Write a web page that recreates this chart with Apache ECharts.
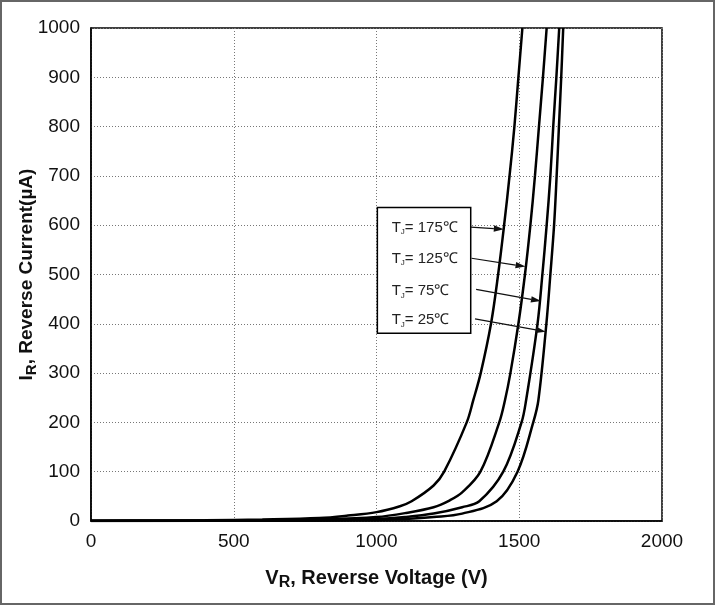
<!DOCTYPE html>
<html><head><meta charset="utf-8">
<script src="https://cdn.jsdelivr.net/npm/echarts@6/dist/echarts.min.js"></script>
<style>html,body{margin:0;padding:0;background:#fff}#c{width:717px;height:606px}</style>
</head><body><div id="c"></div>
<script>
// ---- data ----
const xTickValues = [0, 500, 1000, 1500, 2000];
const yTickValues = [0, 100, 200, 300, 400, 500, 600, 700, 800, 900, 1000];
const seriesLabels = ['175℃', '125℃', '75℃', '25℃'];

const v175 = [0, 200, 400, 600, 800, 900, 1000, 1082, 1123, 1200, 1237, 1316, 1339, 1365, 1401, 1426, 1447, 1466, 1483, 1497, 1511];
const i175 = [0.5, 1, 1.5, 3, 6, 11, 18, 30, 40, 72, 100, 200, 245, 300, 400, 500, 600, 700, 800, 900, 1000];

const v125 = [0, 300, 600, 800, 1000, 1100, 1200, 1257, 1300, 1364, 1430, 1450, 1469, 1497, 1520, 1539, 1555, 1569, 1583, 1596];
const i125 = [0.3, 0.6, 1.2, 3, 8, 16, 28, 42, 58, 100, 200, 245, 300, 400, 500, 600, 700, 800, 900, 1000];

const v75 = [0, 400, 800, 1000, 1100, 1200, 1300, 1360, 1444, 1508, 1524, 1564, 1581, 1596, 1609, 1619, 1630, 1640];
const i75 = [0.2, 0.5, 1.5, 4, 8, 15, 28, 40, 100, 200, 245, 400, 500, 600, 700, 800, 900, 1000];

const v25 = [0, 400, 800, 1000, 1100, 1200, 1300, 1421, 1494, 1549, 1567, 1595, 1609, 1622, 1631, 1639, 1647, 1654];
const i25 = [0.1, 0.3, 1, 2, 4, 8, 15, 40, 100, 200, 245, 400, 500, 600, 700, 800, 900, 1000];

// ---- annotation layout (data coordinates) ----
const legendBox = { x0: 1003, x1: 1330, y0: 636, y1: 381 };
const legendTextPos = [[1053, 594], [1053, 531], [1053, 465], [1053, 406]];
const arrowLines = [
  [[1330, 596], [1446, 592]],
  [[1333, 533], [1522, 516]],
  [[1349, 470], [1576, 446]],
  [[1345, 410], [1593, 384]]
];

const FONT = "'Liberation Sans', Arial, sans-serif";
function zip(a, b) { return a.map((v, i) => [v, b[i]]); }
const allSeries = [[v175, i175], [v125, i125], [v75, i75], [v25, i25]];
function richName(fs) {
  return {
    a: { fontFamily: FONT, fontSize: fs, fontWeight: 'bold', color: '#111', lineHeight: fs + 3, verticalAlign: 'top' },
    s: { fontFamily: FONT, fontSize: fs - 4, fontWeight: 'bold', color: '#111', lineHeight: 5, verticalAlign: 'bottom' }
  };
}

const chart = echarts.init(document.getElementById('c'), null, { renderer: 'canvas' });
chart.setOption({
  animation: false,
  backgroundColor: '#fff',
  grid: { left: 91, right: 55, top: 28, bottom: 85, outerBoundsMode: 'none', containLabel: false,
    show: true, borderColor: '#000', borderWidth: 1.5, backgroundColor: 'transparent' },
  xAxis: {
    type: 'value', min: 0, max: 2000, interval: 500,
    name: '{a|V}{s|R}{a|, Reverse Voltage (V)}',
    nameLocation: 'middle', nameGap: 47, nameMoveOverlap: false,
    nameTextStyle: { rich: richName(20) },
    axisLine: { show: true, lineStyle: { color: '#000', width: 1.5 } },
    axisTick: { show: false },
    axisLabel: { fontFamily: FONT, fontSize: 19, color: '#111', margin: 11, formatter: v => String(v) },
    splitLine: { show: true, lineStyle: { color: '#777', type: [1, 2], width: 1 } }
  },
  yAxis: {
    type: 'value', min: 0, max: 1000, interval: 100,
    name: '{a|I}{s|R}{a|, Reverse Current(µA)}',
    nameLocation: 'middle', nameGap: 52, nameRotate: 90, nameMoveOverlap: false,
    nameTextStyle: { rich: richName(19) },
    axisLine: { show: true, lineStyle: { color: '#000', width: 1.5 } },
    axisTick: { show: false },
    axisLabel: { fontFamily: FONT, fontSize: 19, color: '#111', margin: 11, formatter: v => String(v) },
    splitLine: { show: true, lineStyle: { color: '#777', type: [1, 2], width: 1 } }
  },
  series: allSeries.map((s, k) => ({
    name: seriesLabels[k],
    type: 'line',
    data: zip(s[0], s[1]),
    showSymbol: false,
    smooth: 0.35,
    clip: true,
    lineStyle: { color: '#000', width: 2.5 },
    z: 3
  }))
});

function px(p) { return chart.convertToPixel({ gridIndex: 0 }, p); }
const g = [];
g.push({ type: 'rect', shape: { x: 1, y: 1, width: 713, height: 603 }, style: { fill: null, stroke: '#666', lineWidth: 2 }, z: 200 });
const b0 = px([legendBox.x0, legendBox.y0]), b1 = px([legendBox.x1, legendBox.y1]);
g.push({ type: 'rect', shape: { x: b0[0], y: b0[1], width: b1[0] - b0[0], height: b1[1] - b0[1] }, style: { fill: '#fff', stroke: '#000', lineWidth: 1.5 }, z: 100 });
legendTextPos.forEach((p, k) => {
  const q = px(p);
  g.push({ type: 'text', x: q[0], y: q[1], z: 101,
    style: { text: '{a|T}{s|J}{a|= ' + seriesLabels[k] + '}', verticalAlign: 'middle', align: 'left',
      rich: {
        a: { fontFamily: FONT, fontSize: 15, fill: '#222', lineHeight: 16, verticalAlign: 'top' },
        s: { fontFamily: FONT, fontSize: 8, fill: '#222', lineHeight: 4, verticalAlign: 'bottom' }
      } } });
});
arrowLines.forEach(a => {
  const s = px(a[0]), e = px(a[1]);
  const dx = e[0] - s[0], dy = e[1] - s[1], L = Math.hypot(dx, dy);
  const ux = dx / L, uy = dy / L, hl = 10, hw = 3.2;
  const bx = e[0] - ux * hl, by = e[1] - uy * hl;
  g.push({ type: 'line', shape: { x1: s[0], y1: s[1], x2: bx, y2: by }, style: { stroke: '#111', lineWidth: 1.2 }, z: 101 });
  g.push({ type: 'polygon', shape: { points: [[e[0], e[1]], [bx - uy * hw, by + ux * hw], [bx + uy * hw, by - ux * hw]] }, style: { fill: '#111' }, z: 101 });
});
chart.setOption({ graphic: g });
</script>
</body></html>
